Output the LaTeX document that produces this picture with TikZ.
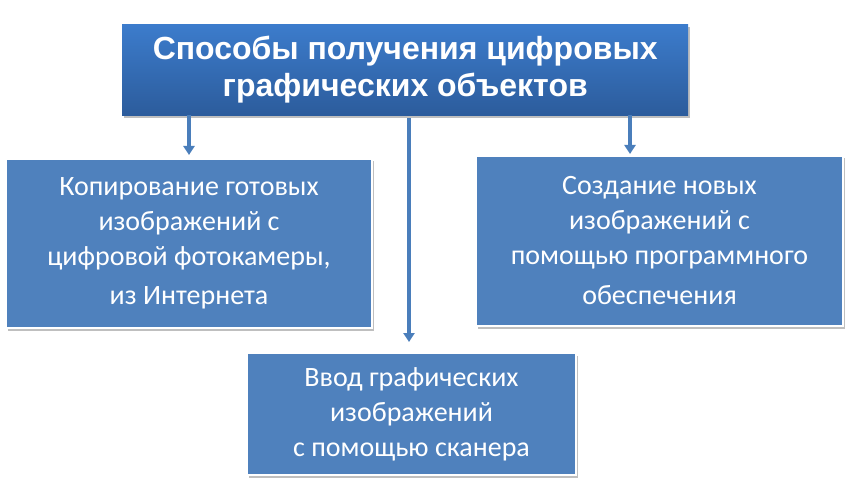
\documentclass[tikz,border=0pt]{standalone}
\usepackage{fontspec}
\setmainfont{Carlito}
\newfontfamily\titlefont{Liberation Sans}
\usetikzlibrary{arrows.meta,shadows}

\definecolor{boxblue}{HTML}{4F81BD}
\definecolor{titletop}{HTML}{3C7CCC}
\definecolor{titlebottom}{HTML}{2C5C9C}
\definecolor{arrowblue}{HTML}{4A7EBB}

\tikzset{
  wayshadow/.style={drop shadow={shadow xshift=1.5pt, shadow yshift=-2.5pt,
    fill=black, opacity=0.25}},
  waybox/.style={rectangle, fill=boxblue, draw=white, line width=2pt,
    wayshadow, text=white, align=center, anchor=north west, inner sep=0pt,
    font=\fontsize{28}{35}\selectfont},
  titlebox/.style={rectangle, top color=titletop, bottom color=titlebottom,
    wayshadow, text=white, align=center, anchor=north west, inner sep=0pt,
    font=\titlefont\bfseries\fontsize{32}{37}\selectfont},
  wayarrow/.style={draw=arrowblue, line width=3.5pt,
    -{Triangle[width=11pt,length=9pt]}}
}

\begin{document}
\begin{tikzpicture}[x=1pt,y=-1pt]
  \useasboundingbox (0,0) rectangle (853,489);

  % heading
  \node[titlebox, minimum width=566pt, minimum height=91pt] (title) at (122,24)
    {Способы получения цифровых\\графических объектов};

  % three ways
  \node[waybox, minimum width=366pt, minimum height=169pt] (copy) at (5,158)
    {Копирование готовых\\изображений с\\цифровой фотокамеры,\\[4pt]из Интернета};
  \node[waybox, minimum width=367pt, minimum height=170pt] (create) at (475,155)
    {Создание новых\\изображений с\\помощью программного\\[5pt]обеспечения};
  \node[waybox, minimum width=329pt, minimum height=122pt] (scan) at (246,352)
    {Ввод графических\\изображений\\с помощью сканера};

  % connectors
  \draw[wayarrow] (title.south -| copy.north) -- ([yshift=3pt]copy.north);
  \draw[wayarrow] ([xshift=-2.5pt,yshift=-3pt]scan.north |- title.south)
    -- ([xshift=-2.5pt,yshift=10pt]scan.north);
  \draw[wayarrow] ([xshift=-29.5pt]create.north |- title.south)
    -- ([xshift=-29.5pt,yshift=1pt]create.north);
\end{tikzpicture}
\end{document}
